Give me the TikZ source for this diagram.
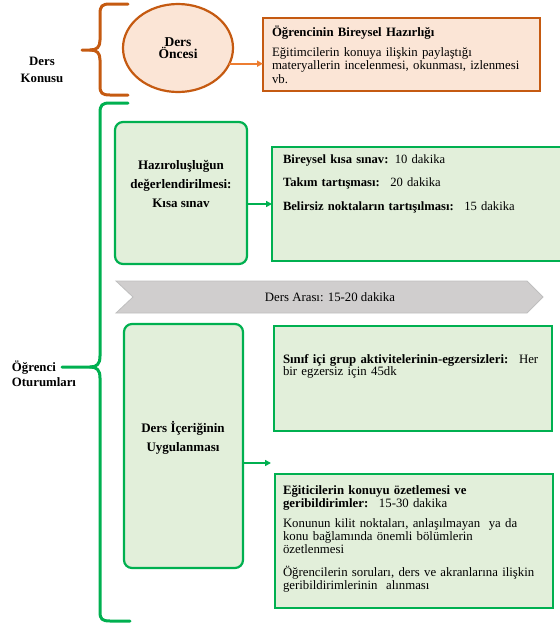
\documentclass[tikz,border=0pt]{standalone}
\usepackage{fontspec}
\setmainfont{Liberation Serif}
\usetikzlibrary{arrows.meta,fit,shapes.geometric}
\definecolor{oBorder}{HTML}{C55A11}
\definecolor{oFill}{HTML}{FBE5D6}
\definecolor{oArrow}{HTML}{ED7D31}
\definecolor{gBorder}{HTML}{00B050}
\definecolor{gFill}{HTML}{E2EFDA}
\definecolor{grFill}{HTML}{D0CECE}
\definecolor{grBorder}{HTML}{BFBFBF}
\begin{document}
\begin{tikzpicture}[x=1pt,y=-1pt,
  every node/.style={font=\fontsize{12.8}{13.5}\selectfont, inner sep=0pt, outer sep=0pt},
  obox/.style={draw=oBorder, fill=oFill, line width=2.2pt, inner sep=0pt},
  gbox/.style={draw=gBorder, fill=gFill, line width=2.2pt, inner sep=0pt},
  grbox/.style={gbox, rounded corners=8pt},
  txt/.style={anchor=base west, align=left, text width=#1},
  ctxt/.style={align=center, font=\bfseries\fontsize{13}{19}\selectfont},
  brace/.style={line width=3pt, line cap=round, line join=round},
  oarrow/.style={draw=oArrow, line width=1.6pt, -{Triangle[length=6pt,width=6pt]}},
  garrow/.style={draw=gBorder, line width=1.8pt, -{Triangle[length=6pt,width=6pt]}},
]
\useasboundingbox (0,0) rectangle (560,625);

% ---------- Ders Konusu ----------
\draw[brace, draw=oBorder] (128,4) -- (110,4) .. controls (102,4) and (100,6) .. (100,14)
  -- (100,40) .. controls (100,47) and (97,50) .. (90,50) -- (82,50);
\draw[brace, draw=oBorder] (90,50) .. controls (97,50) and (100,53) .. (100,60)
  -- (100,86) .. controls (100,93) and (102,95) .. (110,95) -- (128,95);
\node[ctxt, font=\bfseries\fontsize{12.8}{17}\selectfont] (konu) at (42,70) {Ders\\Konusu};

\node[ellipse, draw=oBorder, fill=oFill, line width=2.2pt, minimum width=110pt, minimum height=88pt]
  (once) at (178,48) {};
\node[ctxt, font=\bfseries\fontsize{13.5}{12.5}\selectfont] (oncetxt) at (178,48) {Ders\\Öncesi};

\node[obox, fit={(263,18) (540,91)}] (pre) {};
\node[txt=265pt] (pretxt) at (272,36)
  {\textbf{Öğrencinin Bireysel Hazırlığı}\\[6.5pt]
   Eğitimcilerin konuya ilişkin paylaştığı\\
   materyallerin incelenmesi, okunması, izlenmesi\\
   vb.};
\draw[oarrow] (once.-17) -- (once.-17 -| pre.west);

% ---------- Öğrenci Oturumları ----------
\draw[brace, draw=gBorder] (128,103) -- (110,103) .. controls (102,103) and (100,105) .. (100,113)
  -- (100,356) .. controls (100,364) and (97,367) .. (90,367) -- (62,367);
\draw[brace, draw=gBorder] (90,367) .. controls (97,367) and (100,370) .. (100,378)
  -- (100,612) .. controls (100,619) and (102,621) .. (110,621) -- (130,621);
\node[txt=80pt, font=\bfseries\fontsize{12.8}{15}\selectfont] (ogr) at (12,371)
  {Öğrenci\\Oturumları};

% Kısa sınav
\node[grbox, fit={(115,122) (247,264)}] (b1) {};
\node[ctxt] (b1txt) at (181,184) {Hazıroluşluğun\\değerlendirilmesi:\\Kısa sınav};
\node[gbox, fit={(272,147) (564,261)}] (b2) {};
\node[txt=280pt, font=\fontsize{12.6}{23.5}\selectfont] (b2txt) at (283,163)
  {\textbf{Bireysel kısa sınav:} 10 dakika\\
   \textbf{Takım tartışması:}~ 20 dakika\\
   \textbf{Belirsiz noktaların tartışılması:}~ 15 dakika};
\draw[garrow] (b1.east |- b2.west) -- (b2.west);

% Ders arası
\draw[fill=grFill, draw=grBorder, line width=0.8pt] (116,281) -- (527,281) -- (543,297)
  -- (527,313) -- (116,313) -- (133,297) -- cycle;
\node (ara) at (330,297) {Ders Arası: 15-20 dakika};

% Ders içeriği
\node[grbox, fit={(124,324) (243,568)}] (b3) {};
\node[ctxt] (b3txt) at (183,438) {Ders İçeriğinin\\Uygulanması};
\coordinate (b3end) at (271,463);
\draw[garrow] (b3.east |- b3end) -- (b3end);

\node[gbox, fit={(274,326) (552,431)}] (b4) {};
\node[txt=268pt, font=\fontsize{12.8}{12.5}\selectfont] (b4txt) at (283,363)
  {\textbf{Sınıf içi grup aktivitelerinin-egzersizleri:}~ Her\\
   bir egzersiz için 45dk};

\node[gbox, fit={(275,474) (553,608)}] (b5) {};
\node[txt=268pt, font=\fontsize{12.8}{13}\selectfont] (b5txt) at (283,494)
  {\textbf{Eğiticilerin konuyu özetlemesi ve}\\
   \textbf{geribildirimler:}~ 15-30 dakika\\[7pt]
   Konunun kilit noktaları, anlaşılmayan~ ya da\\
   konu bağlamında önemli bölümlerin\\
   özetlenmesi\\[10pt]
   Öğrencilerin soruları, ders ve akranlarına ilişkin\\
   geribildirimlerinin~ alınması};
\end{tikzpicture}
\end{document}
